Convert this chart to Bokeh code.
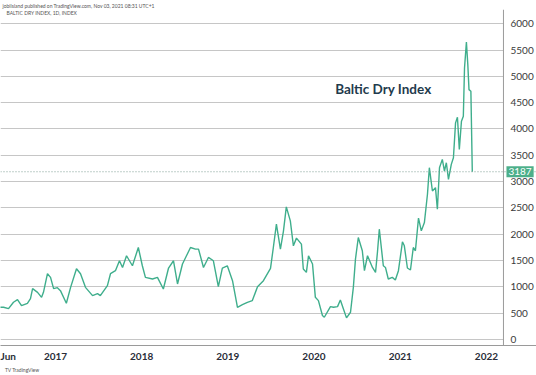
import pandas as pd
from bokeh.plotting import figure
from bokeh.models import Range1d, FixedTicker, Span, Label, BoxAnnotation
from bokeh.embed import file_html
from bokeh.resources import INLINE

# ---- data ----
dates = [
    "2016-05-10", "2016-05-26", "2016-06-16", "2016-07-07", "2016-07-24", "2016-08-10",
    "2016-09-04", "2016-09-17", "2016-09-26", "2016-10-17", "2016-11-03", "2016-11-11",
    "2016-11-28", "2016-12-11", "2016-12-24", "2017-01-09", "2017-01-22", "2017-02-16",
    "2017-03-06", "2017-03-31", "2017-04-17", "2017-05-08", "2017-06-07", "2017-06-28",
    "2017-07-10", "2017-08-09", "2017-08-22", "2017-09-12", "2017-09-29", "2017-10-12",
    "2017-10-29", "2017-11-23", "2017-12-18", "2018-01-04", "2018-01-17", "2018-02-16",
    "2018-03-09", "2018-04-03", "2018-04-25", "2018-05-16", "2018-06-02", "2018-06-23",
    "2018-07-10", "2018-07-27", "2018-08-17", "2018-08-30", "2018-09-20", "2018-10-11",
    "2018-11-01", "2018-11-22", "2018-12-09", "2018-12-30", "2019-01-21", "2019-02-11",
    "2019-03-04", "2019-03-25", "2019-04-15", "2019-05-07", "2019-06-01", "2019-07-01",
    "2019-07-13", "2019-07-26", "2019-08-12", "2019-08-25", "2019-09-06", "2019-09-23",
    "2019-10-06", "2019-10-19", "2019-11-09", "2019-11-17", "2019-11-30", "2019-12-09",
    "2019-12-26", "2020-01-07", "2020-01-20", "2020-02-06", "2020-02-14", "2020-03-11",
    "2020-03-24", "2020-04-10", "2020-04-22", "2020-05-05", "2020-05-18", "2020-06-04",
    "2020-06-16", "2020-06-25", "2020-07-07", "2020-07-24", "2020-08-02", "2020-08-15",
    "2020-09-05", "2020-09-18", "2020-09-26", "2020-10-04", "2020-10-21", "2020-10-30",
    "2020-11-11", "2020-11-28", "2020-12-11", "2020-12-24", "2021-01-10", "2021-01-18",
    "2021-01-31", "2021-02-13", "2021-02-25", "2021-03-06", "2021-03-19", "2021-03-31",
    "2021-04-13", "2021-04-26", "2021-05-04", "2021-05-17", "2021-05-30", "2021-06-07",
    "2021-06-16", "2021-06-28", "2021-07-07", "2021-07-15", "2021-07-24", "2021-08-05",
    "2021-08-14", "2021-08-23", "2021-08-31", "2021-09-08", "2021-09-17", "2021-09-25",
    "2021-09-30", "2021-10-08", "2021-10-14", "2021-10-19", "2021-10-27", "2021-11-02",
]
bdi = [
    612, 612, 587, 707, 757, 644,
    688, 776, 966, 896, 801, 896,
    1250, 1180, 966, 985, 928, 688,
    991, 1345, 1250, 991, 833, 871,
    833, 1023, 1250, 1307, 1496, 1369,
    1591, 1401, 1748, 1401, 1180, 1150,
    1180, 960, 1358, 1496, 1055, 1434,
    1591, 1748, 1718, 1718, 1369, 1559,
    1496, 1004, 1358, 1401, 1117, 612,
    663, 707, 739, 1004, 1117, 1350,
    1748, 2191, 1718, 2064, 2519, 2254,
    1780, 1926, 1812, 1339, 1275, 1591,
    1434, 801, 739, 455, 423, 625,
    612, 625, 752, 581, 411, 518,
    991, 1528, 1938, 1686, 1307, 1591,
    1369, 1275, 1654, 2096, 1401, 1369,
    1150, 1180, 1131, 1307, 1856, 1780,
    1358, 1320, 1748, 1686, 2305, 2064,
    2222, 2760, 3264, 2822, 2885, 2475,
    3264, 3422, 3201, 3358, 3043, 3327,
    3453, 4116, 4224, 3612, 4148, 4243,
    5158, 5650, 5222, 4748, 4716, 3187,
]
y_ticks = [0, 500, 1000, 1500, 2000, 2500, 3000, 3500, 4000, 4500, 5000, 5500, 6000]
x_tick_dates = ["2016-06-01", "2017-01-01", "2018-01-01", "2019-01-01",
                "2020-01-01", "2021-01-01", "2022-01-01"]
x_tick_labels = ["Jun", "2017", "2018", "2019", "2020", "2021", "2022"]
last_value = 3187
title_text = "Baltic Dry Index"
symbol_text = "BALTIC DRY INDEX, 1D, INDEX"
publisher_text = "jobilsland published on TradingView.com, Nov 03, 2021 08:31 UTC+1"
brand_text = "TV TradingView"

# chart pane ends here; the price-scale strip lies to its right
pane_end = "2022-03-14"


def ms(d):
    return pd.Timestamp(d).value / 1e6


LINE = "#3fae8c"
TAG = "#4caf8a"
FONT = "Lato"
AXIS = "#9a9a9a"

p = figure(
    width=536, height=375,
    x_axis_type="datetime", y_axis_location="right",
    x_range=Range1d(ms("2016-05-13"), ms("2022-08-01")),
    y_range=Range1d(-114, 6270),
    output_backend="svg", toolbar_location=None,
    min_border_left=0, min_border_right=0, min_border_top=8, min_border_bottom=30,
)
p.background_fill_color = "white"
p.border_fill_color = "white"
p.outline_line_color = None

# publisher line as a small title above the pane
p.title.text = publisher_text
p.title.text_font = FONT
p.title.text_font_size = "5px"
p.title.text_font_style = "normal"
p.title.text_color = "#555555"
p.title.align = "left"
p.title.offset = 2
p.title.standoff = 1

# grid
p.xgrid.visible = False
p.ygrid.grid_line_color = "#c6c6c6"
p.ygrid.grid_line_width = 1

# white price-scale strip (hides the grid right of the pane)
p.add_layout(BoxAnnotation(left=ms(pane_end), fill_color="white", fill_alpha=1.0,
                           line_alpha=0, level="underlay"))

p.line(pd.to_datetime(dates), bdi, line_color=LINE, line_width=1.4)

# pane border (price scale line)
p.add_layout(Span(location=ms(pane_end), dimension="height", line_color=AXIS, line_width=1))

# y axis labels (drawn back into the price-scale strip)
p.yaxis.ticker = FixedTicker(ticks=y_ticks)
p.yaxis.axis_line_color = None
p.yaxis.major_tick_line_color = None
p.yaxis.minor_tick_line_color = None
p.yaxis.major_tick_out = 0
p.yaxis.major_tick_in = 0
p.yaxis.major_label_standoff = -26
p.yaxis.major_label_text_font = FONT
p.yaxis.major_label_text_font_size = "10px"
p.yaxis.major_label_text_color = "#3a3a3a"

# x axis
p.xaxis.ticker = FixedTicker(ticks=[ms(d) for d in x_tick_dates])
p.xaxis.major_label_overrides = {ms(d): lab for d, lab in zip(x_tick_dates, x_tick_labels)}
p.xaxis.axis_line_color = AXIS
p.xaxis.major_tick_line_color = None
p.xaxis.minor_tick_line_color = None
p.xaxis.major_tick_out = 0
p.xaxis.major_label_standoff = 4
p.xaxis.major_label_text_font = FONT
p.xaxis.major_label_text_font_size = "10px"
p.xaxis.major_label_text_font_style = "bold"
p.xaxis.major_label_text_color = "#2a2e39"

# brand text as bottom axis label (padded so its centred text starts inside the page)
p.xaxis.axis_label = "\u00a0" * 34 + brand_text
p.xaxis.axis_label_align = "start"
p.xaxis.axis_label_text_font = FONT
p.xaxis.axis_label_text_font_size = "5px"
p.xaxis.axis_label_text_font_style = "normal"
p.xaxis.axis_label_text_color = "#555555"
p.xaxis.axis_label_standoff = 2

# last value dotted line + price tag
p.add_layout(Span(location=last_value, dimension="width", line_color="#7f9f95",
                  line_dash="1 2", line_width=1))
p.add_layout(Label(x=ms(pane_end), y=last_value, x_offset=3, text=str(last_value),
                   text_font=FONT, text_font_size="10px", text_color="white",
                   text_align="left", text_baseline="middle",
                   background_fill_color=TAG, padding=2))

# texts inside the pane
p.add_layout(Label(x=ms("2020-10-21"), y=4755, text=title_text, text_font=FONT,
                   text_font_size="13.5px", text_font_style="bold", text_color="#1f3b4d",
                   text_align="center", text_baseline="middle"))
p.add_layout(Label(x=6, y=333, x_units="screen", y_units="screen", text=symbol_text,
                   text_font=FONT, text_font_size="5px", text_color="#555555",
                   text_align="left", text_baseline="middle"))

open("out.html", "w").write(file_html(p, INLINE))
